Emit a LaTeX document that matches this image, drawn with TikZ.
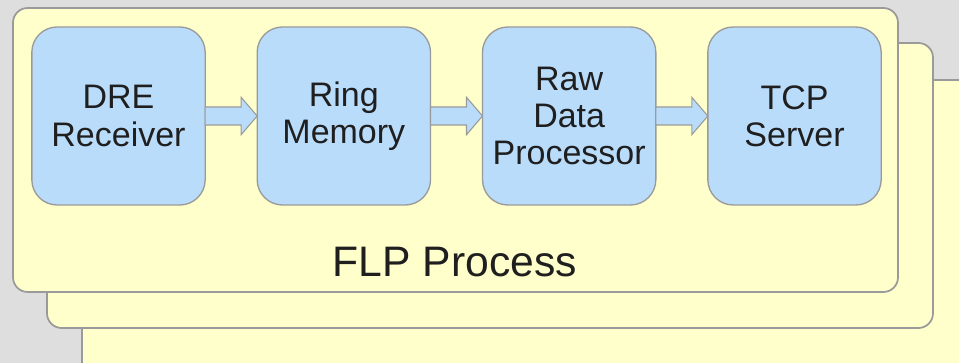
\documentclass[tikz,border=0pt]{standalone}
\usepackage{fontspec}
\setmainfont{Liberation Sans}
\usetikzlibrary{positioning}

\definecolor{frameyellow}{HTML}{FFFFCC}
\definecolor{boxblue}{HTML}{BADCFB}
\definecolor{edgegray}{HTML}{9A9A9A}
\definecolor{backgray}{HTML}{DEDEDE}

\tikzset{
  frame/.style={draw=edgegray, line width=1.3pt, fill=frameyellow, rounded corners=11pt},
  stage/.style={draw=edgegray, line width=1pt, fill=boxblue, rounded corners=19pt,
    minimum width=130pt, minimum height=133.5pt, inner sep=0pt, outer sep=0pt,
    align=center, text=black!88, font=\fontsize{25.5}{28}\selectfont},
  flow/.style={draw=edgegray, line width=0.8pt, fill=boxblue}
}

\begin{document}
\begin{tikzpicture}[x=0.75pt,y=0.75pt]
\fill[backgray] (0,0) rectangle (959,363);
\useasboundingbox (0,0) rectangle (959,363);
% stacked process frames
\draw[frame] (82,283) rectangle (980,-20);
\draw[frame] (47,320) rectangle (933,35);
\draw[frame] (13,355) rectangle (898,71);
% stages
\node[stage] (dre) at (118.5,247) {DRE\\Receiver};
\node[stage, right=39pt of dre] (ring) {Ring\\Memory};
\node[stage, right=39pt of ring] (raw) {Raw\\Data\\Processor};
\node[stage, right=39pt of raw] (tcp) {TCP\\Server};
% block arrows
\foreach \a/\b in {dre/ring, ring/raw, raw/tcp}
  \draw[flow] ([yshift=6.75pt]\a.east) -- ([xshift=-12pt,yshift=6.75pt]\b.west)
    -- ([xshift=-12pt,yshift=14pt]\b.west) -- (\b.west)
    -- ([xshift=-12pt,yshift=-14pt]\b.west) -- ([xshift=-12pt,yshift=-6.75pt]\b.west)
    -- ([yshift=-6.75pt]\a.east) -- cycle;
\node[anchor=base, text=black!88, font=\fontsize{32}{36}\selectfont] (flp) at (455,86) {FLP Process};
\end{tikzpicture}
\end{document}
